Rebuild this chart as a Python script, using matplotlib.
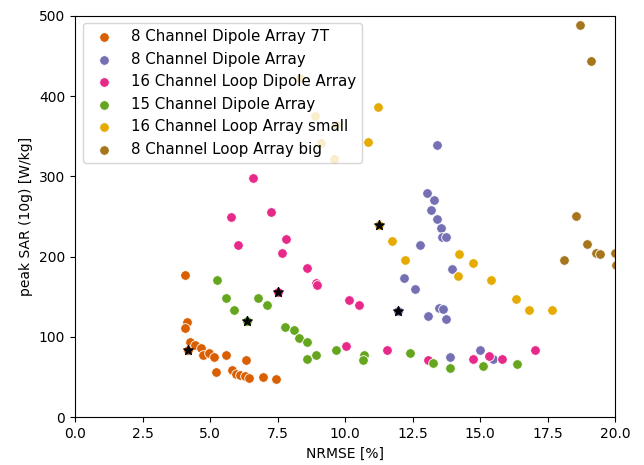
import matplotlib
matplotlib.use('Agg')
import matplotlib.pyplot as plt

# series data (NRMSE [%], peak SAR [W/kg])
labels = ['8 Channel Dipole Array 7T', '8 Channel Dipole Array',
          '16 Channel Loop Dipole Array', '15 Channel Dipole Array',
          '16 Channel Loop Array small', '8 Channel Loop Array big']
colors = ['#d95f02', '#7570b3', '#e7298a', '#66a61e', '#e6ab02', '#a6761d']

dip7t_x = [4.07, 4.14, 4.07, 4.26, 4.2, 4.44, 4.66, 4.73, 4.98, 5.15, 5.58, 6.32,
           5.21, 5.80, 5.96, 6.11, 6.30, 6.44, 6.98, 7.44]
dip7t_y = [177, 119, 111, 94, 83, 90, 86, 77, 80, 75, 77, 71,
           56, 59, 54, 52, 51, 49, 50, 47]

dip8_x = [13.4, 13.03, 13.31, 13.19, 13.4, 13.56, 13.58, 13.74, 12.78, 13.98,
          12.2, 12.59, 13.48, 13.62, 13.06, 13.73, 15.0, 15.49, 13.89, 11.97]
dip8_y = [339, 279, 270, 258, 247, 235, 224, 225, 214, 184,
          173, 160, 136, 135, 126, 122, 84, 73, 75, 132]

loopdip_x = [6.6, 5.78, 7.26, 6.02, 7.8, 7.68, 8.58, 8.93, 8.95, 7.53, 10.14,
             10.5, 10.04, 11.54, 13.09, 14.73, 15.33, 15.83, 17.04]
loopdip_y = [298, 249, 256, 214, 222, 204, 186, 167, 164, 156, 146,
             140, 88, 84, 71, 72, 76, 73, 83]

dip15_x = [5.25, 5.58, 5.9, 6.36, 6.79, 7.12, 7.78, 8.12, 8.31, 8.6, 8.6, 8.93,
           9.67, 10.7, 10.68, 12.41, 13.25, 13.89, 15.1, 16.36]
dip15_y = [171, 149, 133, 120, 149, 140, 112, 109, 98, 94, 72, 78,
           84, 77, 71, 80, 68, 61, 64, 66]

loops_x = [11.21, 10.84, 8.33, 8.89, 9.67, 9.11, 9.6, 11.26, 11.73, 12.22,
           14.23, 14.75, 14.2, 15.41, 16.33, 16.81, 17.65]
loops_y = [386, 343, 422, 375, 364, 341, 321, 239, 220, 196,
           203, 192, 176, 171, 147, 134, 133]

loopb_x = [18.7, 19.11, 18.54, 18.95, 19.3, 19.44, 18.11, 20.0, 20.05]
loopb_y = [488, 444, 251, 216, 205, 203, 196, 204, 189]

# best points marked with stars
star_x = [4.2, 11.97, 7.53, 6.36, 11.26]
star_y = [83, 132, 156, 120, 239]

xs = [dip7t_x, dip8_x, loopdip_x, dip15_x, loops_x, loopb_x]
ys = [dip7t_y, dip8_y, loopdip_y, dip15_y, loops_y, loopb_y]

fig = plt.figure(figsize=(6.44, 4.65), dpi=100)
ax = fig.add_subplot(111)
fig.subplots_adjust(left=0.1165, right=0.955, bottom=0.103, top=0.966)

for i in range(len(labels)):
    ax.scatter(xs[i], ys[i], s=48, color=colors[i], edgecolors='white',
               linewidths=0.6, label=labels[i])
ax.scatter(star_x, star_y, s=50, marker='*', color='black', zorder=3)

ax.set_xlim(0, 20)
ax.set_ylim(0, 500)
ax.set_xlabel('NRMSE [%]')
ax.set_ylabel('peak SAR (10g) [W/kg]')
ax.legend(loc='upper left', fontsize=10.8)

fig.savefig('out.png', dpi=100)
